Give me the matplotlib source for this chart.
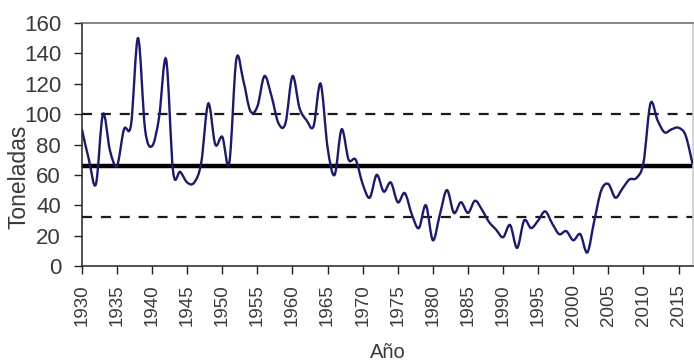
import numpy as np
import matplotlib.pyplot as plt
from matplotlib.path import Path
from matplotlib.patches import PathPatch

# catch per year (tonnes)
years = list(range(1930, 2018))
toneladas = [90, 70, 54, 100, 76, 66, 90, 93, 150, 90,
             79, 98, 136, 62, 62, 55, 55, 68, 107, 80,
             85, 68, 136, 122, 102, 105, 125, 112, 94, 94,
             125, 104, 96, 92, 120, 78, 60, 90, 70, 70,
             54, 45, 60, 49, 55, 42, 48, 34, 25, 40,
             17, 34, 50, 35, 42, 35, 43, 37, 29, 24,
             19, 27, 12, 30, 25, 30, 36, 28, 21, 23,
             17, 21, 9, 30, 50, 54, 45, 51, 57, 58,
             68, 107, 96, 88, 90, 91, 86, 67]

media = 66
limite_sup = 100
limite_inf = 32

x_ticks = list(range(1930, 2016, 5))
y_ticks = list(range(0, 161, 20))


def smooth_path(x, y):
    # Excel-like smoothed line: cubic bezier segments through every point
    pts = np.column_stack([x, y]).astype(float)
    ext = np.vstack([pts[0], pts, pts[-1]])
    verts = [pts[0]]
    codes = [Path.MOVETO]
    for i in range(len(pts) - 1):
        p0, p1, p2, p3 = ext[i], ext[i + 1], ext[i + 2], ext[i + 3]
        verts += [p1 + (p2 - p0) / 6, p2 - (p3 - p1) / 6, p2]
        codes += [Path.CURVE4] * 3
    return Path(verts, codes)


plt.rcParams['font.family'] = ['Liberation Sans', 'DejaVu Sans']
fig = plt.figure(figsize=(6.94, 3.64), dpi=100)
ax = fig.add_axes([0.118, 0.269, 0.880, 0.668])

ax.axhline(limite_sup, color='#1a1a1a', lw=1.6, ls=(0, (4.5, 4.0)), zorder=1)
ax.axhline(limite_inf, color='#1a1a1a', lw=1.6, ls=(0, (4.5, 4.0)), zorder=1)
ax.axhline(media, color='black', lw=3.2, zorder=2)

ax.add_patch(PathPatch(smooth_path(years, toneladas), facecolor='none',
                       edgecolor='#1b1b6a', lw=1.7, zorder=3))

ax.set_xlim(1930, 2017)
ax.set_ylim(0, 160)
ax.set_xticks(x_ticks)
ax.set_xticklabels([str(t) for t in x_ticks], rotation=90, fontsize=13.5,
                   color='#3a3a3a')
ax.set_yticks(y_ticks)
ax.set_yticklabels([str(t) for t in y_ticks], fontsize=16, color='#3a3a3a')
ax.tick_params(direction='out', length=6, width=1, color='#222222')
ax.tick_params(axis='x', pad=7)
ax.tick_params(axis='y', pad=9)

ax.spines['left'].set_color('#222222')
ax.spines['bottom'].set_color('#222222')
ax.spines['top'].set_color('#666666')
ax.spines['right'].set_color('#c8c8c8')
for s in ax.spines.values():
    s.set_linewidth(1.1)

fig.text(19 / 694, 1 - 177 / 364, 'Toneladas', rotation=90, fontsize=16.5,
         color='#3a3a3a', ha='center', va='center')
fig.text(388 / 694, 1 - 353 / 364, 'Año', fontsize=14.5,
         color='#3a3a3a', ha='center', va='center')

fig.savefig('out.png', dpi=100)
